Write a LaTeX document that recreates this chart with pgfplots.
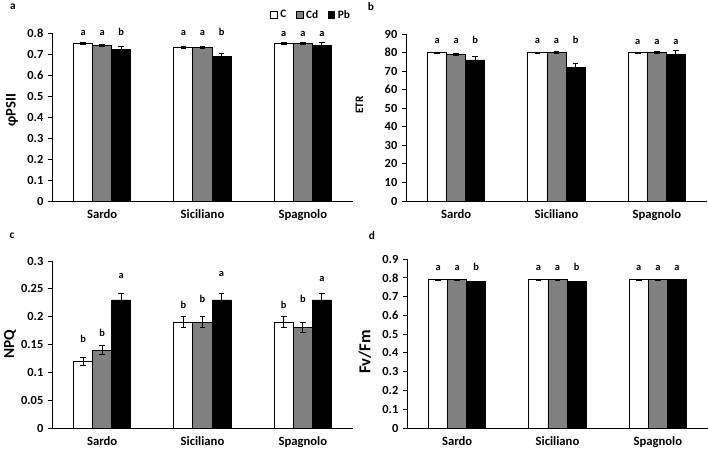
\documentclass[border=0pt]{standalone}
\usepackage{fontspec}
\setmainfont{Carlito}
\usepackage{pgfplots}
\usepackage{pgfplotstable}
\pgfplotsset{compat=1.18}
\definecolor{cdgray}{RGB}{128,128,128}

% means and errors: rows Sardo, Siciliano, Spagnolo
\pgfplotstableread{
x C eC Cd eCd Pb ePb
0 0.75 0.005 0.74 0.005 0.72 0.015
1 0.73 0.005 0.73 0.005 0.69 0.015
2 0.75 0.005 0.75 0.005 0.74 0.015
}\phipsii
\pgfplotstableread{
x C eC Cd eCd Pb ePb
0 80 0.3 79 0.7 76 2
1 80 0.3 80 0.5 72 2
2 80 0.3 80 0.5 79 2
}\etr
\pgfplotstableread{
x C eC Cd eCd Pb ePb
0 0.12 0.007 0.14 0.008 0.23 0.012
1 0.19 0.010 0.19 0.010 0.23 0.012
2 0.19 0.010 0.18 0.009 0.23 0.012
}\npq
\pgfplotstableread{
x C eC Cd eCd Pb ePb
0 0.79 0.002 0.79 0.002 0.78 0.002
1 0.79 0.002 0.79 0.002 0.78 0.002
2 0.79 0.002 0.79 0.002 0.79 0.002
}\fvfm

% significance letters (x, baseline y)
\pgfplotstableread{
x y l
-0.19 0.79 a
0 0.79 a
0.19 0.79 b
0.81 0.79 a
1 0.79 a
1.19 0.79 b
1.81 0.785 a
2 0.785 a
2.19 0.785 a
}\letA
\pgfplotstableread{
x y l
-0.19 85 a
0 85 a
0.19 85 b
0.81 85 a
1 85 a
1.19 85 b
1.81 84.4 a
2 84.4 a
2.19 84.4 a
}\letB
\pgfplotstableread{
x y l
-0.19 0.154 b
0 0.164 b
0.19 0.269 a
0.81 0.215 b
1 0.226 b
1.19 0.272 a
1.81 0.214 b
2 0.226 b
2.19 0.263 a
}\letC
\pgfplotstableread{
x y l
-0.19 0.841 a
0 0.841 a
0.19 0.841 b
0.81 0.841 a
1 0.841 a
1.19 0.841 b
1.81 0.838 a
2 0.838 a
2.19 0.838 a
}\letD

\pgfplotsset{
  panel/.style={
    scale only axis, width=225.75pt, anchor=south west, clip=false,
    axis x line*=bottom, axis y line*=left, axis line style={-, black, line width=0.7pt},
    xmin=-0.5, xmax=2.5, ymin=0,
    xtick={0,1,2}, xticklabels={Sardo,Siciliano,Spagnolo},
    xtick style={draw=none},
    tick align=outside, major tick length=3pt,
    ytick style={black, line width=0.7pt},
    scaled y ticks=false,
    /pgf/number format/assume math mode=true,
    yticklabel style={font=\bfseries\fontsize{9.3}{9.3}\selectfont, /pgf/number format/fixed, /pgf/number format/precision=2},
    xticklabel style={font=\bfseries\fontsize{9.5}{9.5}\selectfont},
    legend image code/.code={\draw[#1, draw=black, line width=0.6pt] (0pt,-2.6pt) rectangle (5.2pt,2.6pt);},
  },
  bars/.style={ybar, bar width=0.19, bar shift=0, draw=black, line width=0.7pt,
    error bars/.cd, y dir=both, y explicit, error bar style={black, line width=0.6pt},
    error mark options={black, rotate=90, mark size=2.2pt, line width=0.6pt}},
  letters/.style={only marks, mark=none, forget plot, nodes near coords, point meta=explicit symbolic,
    every node near coord/.style={anchor=base, inner sep=0pt, font=\bfseries\fontsize{7.8}{7.8}\selectfont}},
}
\newcommand{\threebars}[1]{%
\addplot[fill=white, bars] table[x expr=\thisrow{x}-0.19, y=C, y error=eC] #1;
\addplot[fill=cdgray, bars] table[x=x, y=Cd, y error=eCd] #1;
\addplot[fill=black, bars] table[x expr=\thisrow{x}+0.19, y=Pb, y error=ePb] #1;
}

\begin{document}
\begin{tikzpicture}
\useasboundingbox (0,0) rectangle (531pt,-339.75pt);

% panel a
\begin{axis}[panel, at={(39pt,-150.75pt)}, height=126pt, ymax=0.8,
  ytick={0,0.1,0.2,0.3,0.4,0.5,0.6,0.7,0.8},
  legend columns=3,
  legend style={draw=none, fill=none, at={(rel axis cs:1,1.107)}, anchor=east,
    font=\bfseries\fontsize{8.5}{8.5}\selectfont, inner sep=0pt,
    /tikz/every even column/.append style={column sep=5pt}},
  legend cell align=left]
\threebars{\phipsii}
\addplot[letters] table[x=x, y=y, meta=l] \letA;
\legend{C,Cd,Pb}
\node[rotate=90, font=\bfseries\fontsize{11}{11}\selectfont] at ([xshift=-30pt, yshift=5pt]rel axis cs:0,0.5) {φPSII};
\end{axis}

% panel b
\begin{axis}[panel, at={(304.5pt,-150.75pt)}, height=125.25pt, ymax=90,
  ytick={0,10,20,30,40,50,60,70,80,90}]
\threebars{\etr}
\addplot[letters] table[x=x, y=y, meta=l] \letB;
\node[rotate=90, font=\bfseries\fontsize{8.5}{8.5}\selectfont] at ([xshift=-35pt, yshift=9.4pt]rel axis cs:0,0.5) {ETR};
\end{axis}

% panel c
\begin{axis}[panel, at={(39pt,-321pt)}, height=125.25pt, ymax=0.3,
  ytick={0,0.05,0.1,0.15,0.2,0.25,0.3}]
\threebars{\npq}
\addplot[letters] table[x=x, y=y, meta=l] \letC;
\node[rotate=90, font=\bfseries\fontsize{11.5}{11.5}\selectfont] at ([xshift=-31.5pt]rel axis cs:0,0.5) {NPQ};
\end{axis}

% panel d
\begin{axis}[panel, at={(305.25pt,-321pt)}, height=126.75pt, ymax=0.9,
  ytick={0,0.1,0.2,0.3,0.4,0.5,0.6,0.7,0.8,0.9}]
\threebars{\fvfm}
\addplot[letters] table[x=x, y=y, meta=l] \letD;
\node[rotate=90, font=\bfseries\fontsize{12.5}{12.5}\selectfont] at ([xshift=-31.5pt, yshift=-6.4pt]rel axis cs:0,0.5) {Fv/Fm};
\end{axis}

% panel letters
\node[font=\bfseries\fontsize{8.5}{8.5}\selectfont] at (9.75pt,-5.25pt) {a};
\node[font=\bfseries\fontsize{8.5}{8.5}\selectfont] at (278.25pt,-5.25pt) {b};
\node[font=\bfseries\fontsize{8.5}{8.5}\selectfont] at (9pt,-177pt) {c};
\node[font=\bfseries\fontsize{8.5}{8.5}\selectfont] at (279pt,-177pt) {d};
\end{tikzpicture}
\end{document}
